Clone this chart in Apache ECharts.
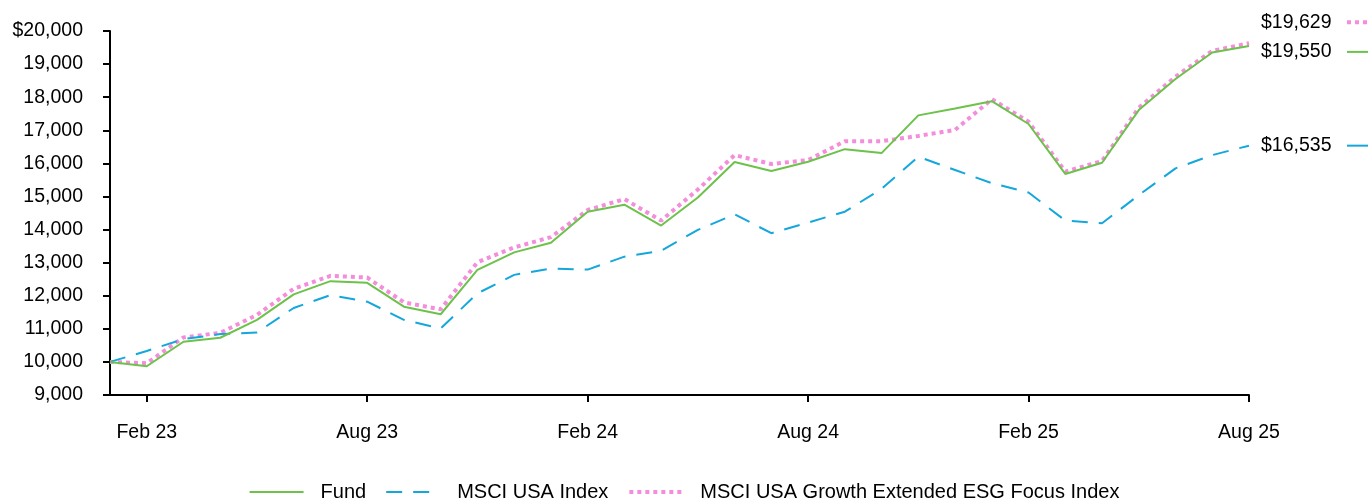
<!DOCTYPE html>
<html>
<head>
<meta charset="utf-8">
<script src="https://cdn.jsdelivr.net/npm/echarts@6/dist/echarts.min.js"></script>
<style>
html,body{margin:0;padding:0;background:#fff;}
#main{width:1368px;height:499px;}
</style>
</head>
<body>
<div id="main"></div>
<script>
// monthly growth of $10,000, Jan 23 - Aug 25
var categories = ['Jan 23','Feb 23','Mar 23','Apr 23','May 23','Jun 23','Jul 23','Aug 23','Sep 23','Oct 23','Nov 23','Dec 23',
    'Jan 24','Feb 24','Mar 24','Apr 24','May 24','Jun 24','Jul 24','Aug 24','Sep 24','Oct 24','Nov 24','Dec 24',
    'Jan 25','Feb 25','Mar 25','Apr 25','May 25','Jun 25','Jul 25','Aug 25'];
var fund = [10000, 9870, 10610, 10730, 11270, 12040, 12440, 12390, 11670, 11440, 12780, 13310, 13600, 14540, 14750, 14120,
    14970, 16040, 15770, 16050, 16430, 16310, 17450, 17660, 17880, 17190, 15680, 16020, 17610, 18550, 19350, 19550];
var msciUsa = [10000, 10330, 10690, 10840, 10890, 11630, 12020, 11820, 11270, 11010, 12070, 12630, 12820, 12790, 13180, 13360,
    13990, 14460, 13890, 14210, 14540, 15230, 16200, 15800, 15400, 15120, 14270, 14190, 15040, 15850, 16250, 16535];
var esgIndex = [10000, 9960, 10740, 10880, 11420, 12210, 12600, 12550, 11800, 11590, 13010, 13460, 13770, 14590, 14920, 14270,
    15210, 16250, 15980, 16100, 16670, 16670, 16830, 17010, 17940, 17260, 15750, 16070, 17680, 18620, 19400, 19629];
var names = ['Fund', 'MSCI USA Index', 'MSCI USA Growth Extended ESG Focus Index'];

var green = '#6cc24a', blue = '#14a7dc', pink = '#f48ddb';
var font = 'Liberation Sans, Arial, sans-serif';

function money(v) {
    return '$' + v.toLocaleString('en-US');
}
function endLbl(dy) {
    return {
        show: true,
        distance: 12,
        offset: [0, dy],
        color: '#000',
        fontSize: 19.5,
        fontFamily: font,
        formatter: function (p) { return money(p.value); }
    };
}
var tickShown = function (i) { return i % 6 === 1; };

var chart = echarts.init(document.getElementById('main'));
var option = {
    animation: false,
    grid: { left: 110, right: 119, top: 31, bottom: 104 },
    legend: {
        data: [
            { name: names[0], lineStyle: { width: 2 } },
            { name: names[1], lineStyle: { width: 2 } },
            { name: names[2], lineStyle: { width: 4 } }
        ],
        left: 'center',
        top: 477,
        itemWidth: 54,
        itemHeight: 14,
        itemGap: 19,
        itemStyle: { opacity: 0 },
        textStyle: { color: '#000', fontSize: 20, fontFamily: font, padding: [0, 0, 0, 12] }
    },
    xAxis: {
        type: 'category',
        data: categories,
        boundaryGap: false,
        axisLine: { lineStyle: { color: '#000', width: 2 } },
        axisTick: { interval: tickShown, length: 7, lineStyle: { color: '#000', width: 2 } },
        axisLabel: { interval: tickShown, margin: 28, color: '#000', fontSize: 19.5, fontFamily: font },
        splitLine: { show: false }
    },
    yAxis: {
        type: 'value',
        min: 9000,
        max: 20000,
        interval: 1000,
        axisLine: { show: true, lineStyle: { color: '#000', width: 2 } },
        axisTick: { show: true, length: 7, lineStyle: { color: '#000', width: 2 } },
        axisLabel: {
            margin: 27, color: '#000', fontSize: 19.5, fontFamily: font,
            formatter: function (v) { return v === 20000 ? money(v) : v.toLocaleString('en-US'); }
        },
        splitLine: { show: false }
    },
    series: [{
        name: names[2],
        type: 'line',
        data: esgIndex,
        symbol: 'none',
        z: 1,
        lineStyle: { color: pink, width: 4, type: [4, 4] },
        itemStyle: { color: pink },
        endLabel: endLbl(-21)
    }, {
        name: names[1],
        type: 'line',
        data: msciUsa,
        symbol: 'none',
        z: 2,
        lineStyle: { color: blue, width: 2, type: [16, 11] },
        itemStyle: { color: blue },
        endLabel: endLbl(0)
    }, {
        name: names[0],
        type: 'line',
        data: fund,
        symbol: 'none',
        z: 3,
        lineStyle: { color: green, width: 2 },
        itemStyle: { color: green },
        endLabel: endLbl(6)
    }]
};
chart.setOption(option);

// little line keys to the right of the end values
var last = categories.length - 1;
function key(values, dy, style) {
    var p = chart.convertToPixel({ xAxisIndex: 0, yAxisIndex: 0 }, [last, values[last]]);
    return { type: 'line', shape: { x1: p[0] + 98, y1: p[1] + dy, x2: p[0] + 122, y2: p[1] + dy }, style: style };
}
chart.setOption({
    graphic: [
        key(esgIndex, -21, { stroke: pink, lineWidth: 4, lineDash: [4, 4] }),
        key(fund, 6, { stroke: green, lineWidth: 2 }),
        key(msciUsa, 0, { stroke: blue, lineWidth: 2 })
    ]
});
</script>
</body>
</html>
